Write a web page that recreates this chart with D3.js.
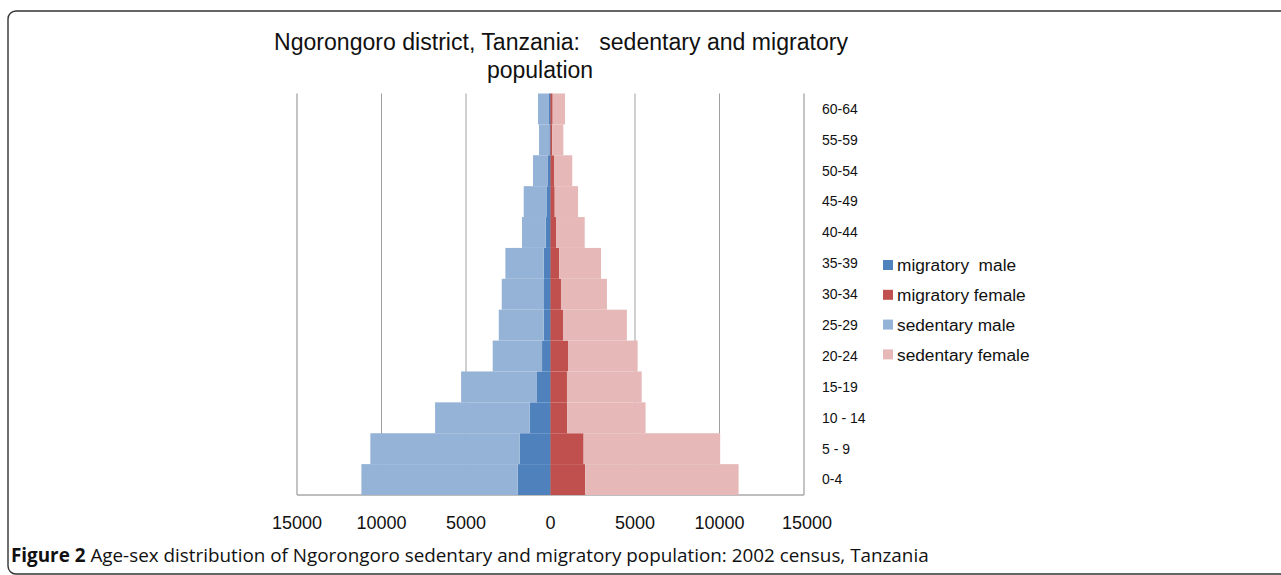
<!DOCTYPE html>
<html>
<head>
<meta charset="utf-8">
<script src="https://cdn.jsdelivr.net/npm/d3@7"></script>
<style>
  body { margin: 0; background: #fff; }
  text { font-family: "Liberation Sans", Arial, sans-serif; fill: #111; white-space: pre; }
</style>
</head>
<body>
<script>
// age groups, bottom (youngest) to top
var ageGroups = ["0-4", "5 - 9", "10 - 14", "15-19", "20-24", "25-29", "30-34",
                 "35-39", "40-44", "45-49", "50-54", "55-59", "60-64"];
var migratoryMale   = [1940, 1820, 1230, 800, 500, 400, 385, 400, 285, 210, 150, 70, 90];
var migratoryFemale = [2060, 1960, 995, 975, 1035, 740, 620, 520, 325, 250, 207, 110, 130];
var sedentaryMale   = [9250, 8840, 5600, 4490, 2920, 2660, 2500, 2270, 1400, 1375, 885, 610, 650];
var sedentaryFemale = [9070, 8080, 4630, 4420, 4120, 3780, 2720, 2470, 1700, 1380, 1080, 650, 730];
var xTicks = [-15000, -10000, -5000, 0, 5000, 10000, 15000];
var seriesNames = ["migratory  male", "migratory female", "sedentary male", "sedentary female"];
var seriesColors = ["#4f81bd", "#c0504d", "#95b3d7", "#e6b9b8"];

var W = 1281, H = 575;

var svg = d3.select("body").append("svg")
    .attr("width", W)
    .attr("height", H);

/* figure frame */
svg.append("rect")
    .attr("x", 8).attr("y", 11)
    .attr("width", 1300).attr("height", 563)
    .attr("rx", 8)
    .attr("fill", "none")
    .attr("stroke", "#333")
    .attr("stroke-width", 1.4);

/* table for the stack: males negative */
var keys = ["mm", "mf", "sm", "sf"];
var table = ageGroups.map(function(a, i) {
    return { age: a, mm: -migratoryMale[i], mf: migratoryFemale[i],
             sm: -sedentaryMale[i], sf: sedentaryFemale[i] };
});
var stacked = d3.stack().keys(keys).offset(d3.stackOffsetDiverging)(table);

var x = d3.scaleLinear().domain([-15000, 15000]).range([297, 804]);
var y = d3.scaleBand().domain(ageGroups.slice().reverse()).range([93.5, 495]).padding(0);

/* gridlines */
svg.append("g").selectAll("line")
    .data(xTicks)
    .enter().append("line")
    .attr("x1", function(d) { return x(d); })
    .attr("x2", function(d) { return x(d); })
    .attr("y1", y.range()[0])
    .attr("y2", y.range()[1])
    .attr("stroke", function(d) { return Math.abs(d) == 15000 ? "#b5b5b5" : "#a0a0a0"; })
    .attr("stroke-width", function(d) { return Math.abs(d) == 15000 ? 1.6 : 1; });

svg.append("line")
    .attr("x1", x(-15000)).attr("x2", x(15000))
    .attr("y1", 495).attr("y2", 495)
    .attr("stroke", "#a8a8a8")
    .attr("stroke-width", 1.4);

/* bars */
svg.append("g").selectAll("g")
    .data(stacked)
    .enter().append("g")
    .attr("fill", function(d, i) { return seriesColors[i]; })
    .selectAll("rect")
    .data(function(d) { return d; })
    .enter().append("rect")
    .attr("x", function(d) { return x(Math.min(d[0], d[1])); })
    .attr("width", function(d) { return Math.abs(x(d[1]) - x(d[0])); })
    .attr("y", function(d) { return y(d.data.age); })
    .attr("height", y.bandwidth());

/* x tick labels */
svg.append("g").selectAll("text")
    .data(xTicks)
    .enter().append("text")
    .attr("x", function(d) { return x(d) + (d == 15000 ? 3 : 0); })
    .attr("y", 529)
    .attr("text-anchor", "middle")
    .style("font-size", "18px")
    .text(function(d) { return Math.abs(d); });

/* age labels */
svg.append("g").selectAll("text")
    .data(ageGroups)
    .enter().append("text")
    .attr("x", 822)
    .attr("y", function(d) { return y(d) + y.bandwidth() / 2; })
    .attr("dy", "0.35em")
    .style("font-size", "14px")
    .text(function(d) { return d; });

/* legend */
var leg = svg.append("g").selectAll("g")
    .data(seriesNames)
    .enter().append("g")
    .attr("transform", function(d, i) { return "translate(883," + (265 + i * 29.8) + ")"; });
leg.append("rect")
    .attr("x", 0).attr("y", -5)
    .attr("width", 10).attr("height", 10)
    .attr("fill", function(d, i) { return seriesColors[i]; });
leg.append("text")
    .attr("x", 14)
    .attr("dy", "0.36em")
    .style("font-size", "17.3px")
    .text(function(d) { return d; });

/* title */
svg.append("text")
    .attr("x", 274).attr("y", 50)
    .style("font-size", "23px")
    .attr("textLength", 574)
    .attr("lengthAdjust", "spacingAndGlyphs")
    .text("Ngorongoro district, Tanzania:   sedentary and migratory");
svg.append("text")
    .attr("x", 540).attr("y", 78)
    .attr("text-anchor", "middle")
    .style("font-size", "23px")
    .text("population");

/* caption */
var cap = svg.append("text")
    .attr("x", 11).attr("y", 562)
    .style("font-family", "'Open Sans', sans-serif")
    .style("font-size", "16px");
cap.append("tspan").style("font-weight", "bold").style("font-family", "'Open Sans', sans-serif").text("Figure 2");
cap.append("tspan").style("font-family", "'Open Sans', sans-serif")
    .text(" Age-sex distribution of Ngorongoro sedentary and migratory population: 2002 census, Tanzania");
var capW = cap.node().getComputedTextLength();
cap.style("font-size", (16 * 918 / capW) + "px");
</script>
</body>
</html>
